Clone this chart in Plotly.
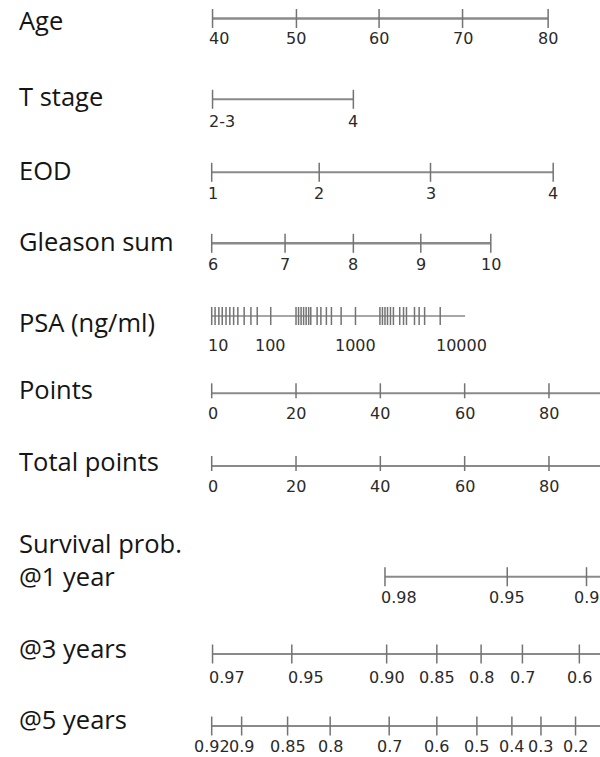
import plotly.graph_objects as go

# ---- nomogram scales: tick values and their position on the points axis ----
age_labels = ["40", "50", "60", "70", "80"]
age_points = [0.2, 20.1, 39.7, 59.5, 79.8]

tstage_labels = ["2-3", "4"]
tstage_points = [0.2, 33.6]

eod_labels = ["1", "2", "3", "4"]
eod_points = [0.0, 25.5, 51.9, 81.0]

gleason_labels = ["6", "7", "8", "9", "10"]
gleason_points = [0.0, 17.4, 33.6, 49.6, 66.2]

psa_labels = ["10", "100", "1000", "10000"]
psa_points = [0.0, 14.0, 34.1, 54.2]
psa_minor_points = [0.8, 1.7, 2.5, 3.4, 4.3, 5.2, 6.2, 7.7, 9.3, 10.8,
                    20.0, 20.6, 21.2, 21.8, 22.4, 23.0, 23.5, 25.0, 25.9,
                    27.2, 28.4, 30.7,
                    39.9, 40.5, 41.1, 41.7, 42.4, 43.1, 44.6, 45.5, 46.2,
                    48.1, 49.2, 50.5]
psa_end = 60.1

points_labels = ["0", "20", "40", "60", "80", "100"]
points_points = [0, 20, 40, 60, 80, 100]

total_labels = ["0", "20", "40", "60", "80", "100"]
total_points = [0, 20, 40, 60, 80, 100]

surv1_labels = ["0.98", "0.95", "0.9"]
surv1_points = [41.1, 70.1, 88.9]

surv3_labels = ["0.97", "0.95", "0.90", "0.85", "0.8", "0.7", "0.6"]
surv3_points = [0.2, 19.0, 41.5, 53.4, 63.9, 73.7, 87.2]

surv5_labels = ["0.92", "0.9", "0.85", "0.8", "0.7", "0.6", "0.5", "0.4", "0.3", "0.2"]
surv5_points = [0.0, 7.1, 18.0, 28.1, 42.1, 53.4, 62.9, 71.2, 78.1, 86.3]

row_titles = ["Age", "T stage", "EOD", "Gleason sum", "PSA (ng/ml)", "Points",
              "Total points", "Survival prob.", "@1 year", "@3 years", "@5 years"]

W, H = 600, 757
X0_PX, PX_PER_PT = 211.7, 4.216
x_lo = (0 - X0_PX) / PX_PER_PT
x_hi = (W - X0_PX) / PX_PER_PT

LINE_COL = "#8a8a8a"
TICK_COL = "#737373"
LABEL_COL = "#2a2a2a"
TITLE_COL = "#151515"
LABEL_FONT = dict(family="DejaVu Sans", size=16, color=LABEL_COL)
TITLE_FONT = dict(family="Open Sans", size=25.5, color=TITLE_COL)

fig = go.Figure()
annotations = []


def add_scale(y, pts, labels, start=None, end=None, up=9.5, down=9.5,
              label_dy=21, minor=None, line_w=2.0, left_labels=(0,)):
    """Draw one nomogram scale: base line, tick marks and tick labels.
    Labels whose index is in left_labels start just left of their tick."""
    start = min(pts) if start is None else start
    end = max(pts) if end is None else end
    fig.add_trace(go.Scatter(x=[start, end], y=[y, y], mode="lines",
                             line=dict(color=LINE_COL, width=line_w),
                             hoverinfo="skip", showlegend=False))
    tx, ty = [], []
    for p in list(pts) + list(minor or []):
        tx += [p, p, None]
        ty += [y - up, y + down, None]
    fig.add_trace(go.Scatter(x=tx, y=ty, mode="lines",
                             line=dict(color=TICK_COL, width=1.5),
                             hoverinfo="skip", showlegend=False))
    for i, (p, lab) in enumerate(zip(pts, labels)):
        left = i in left_labels
        annotations.append(dict(x=p, y=y + label_dy, xref="x", yref="y",
                                text=lab, showarrow=False, font=LABEL_FONT,
                                xanchor="left" if left else "center",
                                xshift=-6 if left else 0,
                                yanchor="middle"))


add_scale(18.5, age_points, age_labels, label_dy=20, line_w=2.6)
add_scale(99.3, tstage_points, tstage_labels, label_dy=22)
add_scale(172.3, eod_points, eod_labels, label_dy=21)
add_scale(243.3, gleason_points, gleason_labels, label_dy=21, line_w=2.6)
add_scale(316.0, psa_points, psa_labels, end=psa_end, up=9, down=9,
          label_dy=29, minor=psa_minor_points, line_w=1.6, left_labels=(0, 3))
add_scale(393.3, points_points, points_labels, end=110, up=10, down=5, label_dy=20)
add_scale(466.0, total_points, total_labels, end=110, up=10, down=5, label_dy=20)
add_scale(576.7, surv1_points, surv1_labels, end=110, label_dy=21)
add_scale(654.0, surv3_points, surv3_labels, end=110, label_dy=23, left_labels=(0, 1))
add_scale(726.0, surv5_points, surv5_labels, end=110, label_dy=20, left_labels=())

title_y = [20, 96, 170, 241, 322, 389, 461, 543, 576, 648, 719]
for t, ty in zip(row_titles, title_y):
    annotations.append(dict(x=17 / W, y=ty, xref="paper", yref="y", text=t,
                            showarrow=False, font=TITLE_FONT,
                            xanchor="left", yanchor="middle"))

fig.update_layout(
    width=W, height=H,
    margin=dict(l=0, r=0, t=0, b=0),
    paper_bgcolor="white", plot_bgcolor="white",
    xaxis=dict(range=[x_lo, x_hi], visible=False, fixedrange=True),
    yaxis=dict(range=[H, 0], visible=False, fixedrange=True),
    annotations=annotations,
    showlegend=False,
)

fig.write_html("out.html", config={"displayModeBar": False})
